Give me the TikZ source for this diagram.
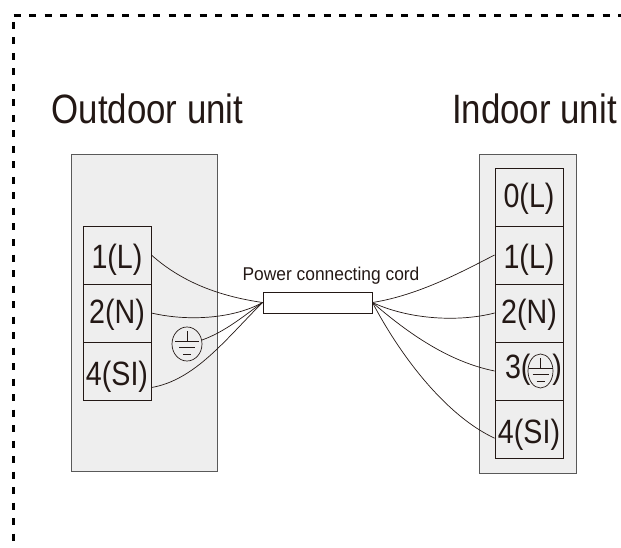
\documentclass[tikz,border=0pt]{standalone}
\usepackage{fontspec}
\setmainfont{Liberation Sans}
\newfontfamily\tallfont[FakeStretch=0.85]{Liberation Sans}
\newfontfamily\cordfont[FakeStretch=0.94]{Liberation Sans}
\usetikzlibrary{shapes.geometric}
\definecolor{inkdark}{HTML}{231815}
\definecolor{unitgray}{HTML}{EEEEEE}
\newcommand{\termtext}[2]{\raisebox{-#1pt}{#2}}
\tikzset{
	unitbox/.style={draw=black!65,fill=unitgray,line width=0.9pt,inner sep=0pt},
	terminal/.style={draw=inkdark,fill=unitgray,line width=0.8pt,minimum width=68pt,minimum height=58pt,inner sep=0pt,text=inkdark,text height=0pt,text depth=0pt,font=\tallfont\fontsize{33.7}{33.7}\selectfont},
	wire/.style={draw=inkdark,line width=0.7pt},
	unitname/.style={anchor=base,text=inkdark,font=\tallfont\fontsize{41}{41}\selectfont},
	earthline/.style={inkdark,line width=0.6pt},
	earthsign/.style={ellipse,draw=inkdark,line width=0.7pt,inner sep=0pt,minimum width=30pt,minimum height=34pt,
		path picture={
			\draw[earthline] ([yshift=13pt]path picture bounding box.center) -- ([yshift=3pt]path picture bounding box.center);
			\draw[earthline] ([xshift=-12pt,yshift=3pt]path picture bounding box.center) -- ([xshift=12pt,yshift=3pt]path picture bounding box.center);
			\draw[earthline] ([xshift=-8pt,yshift=-3pt]path picture bounding box.center) -- ([xshift=8pt,yshift=-3pt]path picture bounding box.center);
			\draw[earthline] ([xshift=-4pt,yshift=-10pt]path picture bounding box.center) -- ([xshift=4pt,yshift=-10pt]path picture bounding box.center);
		}},
}

\begin{document}
\begin{tikzpicture}[x=1pt,y=-1pt]
	\useasboundingbox (0,0) rectangle (621,548);
	\draw[black,line width=3pt,dash pattern=on 7pt off 8.5pt] (13.5,16) -- (621,16);
	\draw[black,line width=3pt,dash pattern=on 7pt off 8.5pt] (13.5,22) -- (13.5,548);

	\node[unitname] (outname) at (147.5,123.5) {Outdoor unit};
	\node[unitname] (inname) at (534.5,123.5) {Indoor unit};

	\node[unitbox,minimum width=146pt,minimum height=317pt] (outbox) at (144,312.5) {};
	\node[unitbox,minimum width=97pt,minimum height=319pt] (inbox) at (527.5,313.5) {};

	\node[terminal] (out1) at (117,255) {\termtext{13}{1(L)}};
	\node[terminal] (out2) at (117,313) {\termtext{10}{2(N)}};
	\node[terminal] (out4) at (117,371.5) {\termtext{13.5}{4(SI)}};

	\node[terminal] (in0) at (529,197) {\termtext{10}{0(L)}};
	\node[terminal] (in1) at (529,255) {\termtext{13}{1(L)}};
	\node[terminal] (in2) at (529,313) {\termtext{10}{2(N)}};
	\node[terminal] (in3) at (529,371) {\hspace{9pt}\termtext{7}{3(\hspace{22pt})}};
	\node[terminal] (in4) at (529,429) {\termtext{14}{4(SI)}};

	\node[earthsign,minimum width=25pt] (earthin) at (540.5,371) {};
	\node[earthsign] (earthout) at (187,344) {};

	\node[draw=inkdark,fill=white,line width=0.9pt,minimum width=109pt,minimum height=21pt,inner sep=0pt] (cord) at (317.5,302.5) {};
	\node[anchor=base,text=inkdark,font=\cordfont\fontsize{18.5}{18.5}\selectfont] (cordname) at (331,280) {Power connecting cord};

	\draw[wire] (out1.east) .. controls (185,285) and (225,297) .. (cord.west);
	\draw[wire] (out2.east) .. controls (190,322) and (235,318) .. (cord.west);
	\draw[wire] (earthout.15) .. controls (225,332) and (245,315) .. (cord.west);
	\draw[wire] (out4.-25) .. controls (195,380) and (225,340) .. (cord.west);

	\draw[wire] (cord.east) .. controls (420,295) and (465,270) .. (in1.west);
	\draw[wire] (cord.east) .. controls (410,320) and (460,322) .. (in2.west);
	\draw[wire] (cord.east) .. controls (410,335) and (450,362) .. (in3.west);
	\draw[wire] (cord.east) .. controls (400,355) and (445,415) .. (in4.195);
\end{tikzpicture}
\end{document}
